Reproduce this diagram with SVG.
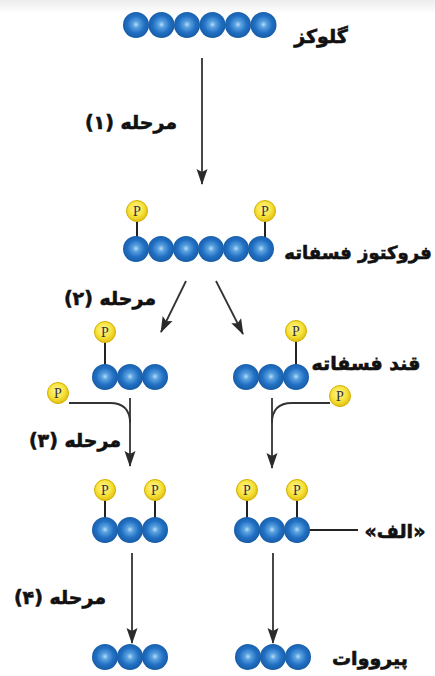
<svg xmlns="http://www.w3.org/2000/svg" width="435" height="676" viewBox="0 0 435 676">
<defs>
<radialGradient id="ballG" cx="50%" cy="48%" r="55%">
<stop offset="0" stop-color="#b8dcf6"/>
<stop offset="0.22" stop-color="#5aa2e0"/>
<stop offset="0.6" stop-color="#2270c4"/>
<stop offset="1" stop-color="#14589f"/>
</radialGradient>
<radialGradient id="pG" cx="45%" cy="40%" r="60%">
<stop offset="0" stop-color="#fff6a0"/>
<stop offset="0.6" stop-color="#f7e23a"/>
<stop offset="1" stop-color="#e0c010"/>
</radialGradient>
<linearGradient id="topG" x1="0" y1="0" x2="0" y2="1">
<stop offset="0" stop-color="#ececec"/>
<stop offset="1" stop-color="#ffffff"/>
</linearGradient>
<marker id="ah" markerUnits="userSpaceOnUse" markerWidth="16" markerHeight="12" viewBox="0 0 16 12" refX="15" refY="6" orient="auto">
<path d="M0,0.5 L16,6 L0,11.5 L3,6 Z" fill="#2b2b2b"/>
</marker>
<g id="ball"><circle r="13" fill="url(#ballG)"/></g>
<g id="pp"><circle r="10.5" fill="url(#pG)" stroke="#d4b000" stroke-width="1"/><text y="5" text-anchor="middle" class="pt">P</text></g>
</defs>
<style>
.lbl{font-family:"DejaVu Sans",sans-serif;font-weight:bold;font-size:19px;fill:#111;stroke:#111;stroke-width:0.6;direction:rtl}
.pt{font-family:"Liberation Serif",serif;font-size:14px;fill:#333}
.stk{stroke:#222;stroke-width:2}
.cn{stroke:#333;stroke-width:1.8;fill:none}
</style>
<rect width="435" height="676" fill="#ffffff"/>
<rect width="435" height="14" fill="url(#topG)"/>

<g id="glucose">
<use href="#ball" x="136" y="25"/><use href="#ball" x="161.5" y="25"/><use href="#ball" x="187" y="25"/><use href="#ball" x="212.5" y="25"/><use href="#ball" x="238" y="25"/><use href="#ball" x="263.5" y="25"/>
<text class="lbl" x="321" y="43" text-anchor="middle">گلوکز</text>
</g>

<g id="fructose-bisphosphate">
<line class="stk" x1="137" y1="220" x2="137" y2="238"/>
<line class="stk" x1="265" y1="220" x2="265" y2="238"/>
<use href="#pp" x="137" y="211"/><use href="#pp" x="265" y="211"/>
<use href="#ball" x="136" y="249"/><use href="#ball" x="161" y="249"/><use href="#ball" x="186" y="249"/><use href="#ball" x="211" y="249"/><use href="#ball" x="236" y="249"/><use href="#ball" x="261" y="249"/>
<text class="lbl" x="358" y="259" text-anchor="middle" style="font-size:18px">فروکتوز فسفاته</text>
</g>

<g id="triose-left">
<line class="stk" x1="105" y1="341" x2="105" y2="366"/>
<use href="#pp" x="105" y="332"/>
<use href="#ball" x="105" y="377"/><use href="#ball" x="130" y="377"/><use href="#ball" x="155" y="377"/>
</g>

<g id="triose-right">
<line class="stk" x1="296" y1="340" x2="296" y2="366"/>
<use href="#pp" x="296" y="331"/>
<use href="#ball" x="246" y="377"/><use href="#ball" x="271" y="377"/><use href="#ball" x="296" y="377"/>
<text class="lbl" x="366" y="370" text-anchor="middle">قند فسفاته</text>
</g>

<g id="free-p-left"><use href="#pp" x="58" y="393"/></g>
<g id="free-p-right"><use href="#pp" x="340" y="396"/></g>

<g id="bisphospho-left">
<line class="stk" x1="105" y1="498" x2="105" y2="519"/>
<line class="stk" x1="155" y1="498" x2="155" y2="519"/>
<use href="#pp" x="105" y="490"/><use href="#pp" x="155" y="490"/>
<use href="#ball" x="105" y="530"/><use href="#ball" x="130" y="530"/><use href="#ball" x="155" y="530"/>
</g>

<g id="bisphospho-right">
<line class="stk" x1="247" y1="498" x2="247" y2="519"/>
<line class="stk" x1="297" y1="498" x2="297" y2="519"/>
<use href="#pp" x="247" y="490"/><use href="#pp" x="297" y="490"/>
<line class="stk" x1="305" y1="530" x2="358" y2="530"/>
<use href="#ball" x="247" y="530"/><use href="#ball" x="272" y="530"/><use href="#ball" x="297" y="530"/>
<text class="lbl" x="395" y="538" text-anchor="middle">«الف»</text>
</g>

<g id="pyruvate-left">
<use href="#ball" x="105" y="657"/><use href="#ball" x="130" y="657"/><use href="#ball" x="155" y="657"/>
</g>
<g id="pyruvate-right">
<use href="#ball" x="248" y="657"/><use href="#ball" x="273" y="657"/><use href="#ball" x="298" y="657"/>
<text class="lbl" x="370" y="665" text-anchor="middle">پیرووات</text>
</g>

<g id="step-labels">
<text class="lbl" x="131" y="129" text-anchor="middle">مرحله (۱)</text>
<text class="lbl" x="110" y="305" text-anchor="middle">مرحله (۲)</text>
<text class="lbl" x="75" y="447" text-anchor="middle">مرحله (۳)</text>
<text class="lbl" x="60" y="604" text-anchor="middle">مرحله (۴)</text>
</g>

<g id="connectors">
<line class="cn" x1="202" y1="58" x2="202" y2="184" marker-end="url(#ah)"/>
<line class="cn" x1="186" y1="281" x2="161" y2="332" marker-end="url(#ah)"/>
<line class="cn" x1="216" y1="281" x2="243" y2="334" marker-end="url(#ah)"/>
<line class="cn" x1="130" y1="398" x2="130" y2="466" marker-end="url(#ah)"/>
<path class="cn" d="M69,403 L110,403 Q130,403 130,423"/>
<line class="cn" x1="272" y1="398" x2="272" y2="468" marker-end="url(#ah)"/>
<path class="cn" d="M330,403 L292,403 Q272,403 272,423"/>
<line class="cn" x1="132" y1="553" x2="132" y2="643" marker-end="url(#ah)"/>
<line class="cn" x1="273" y1="553" x2="273" y2="643" marker-end="url(#ah)"/>
</g>
</svg>
